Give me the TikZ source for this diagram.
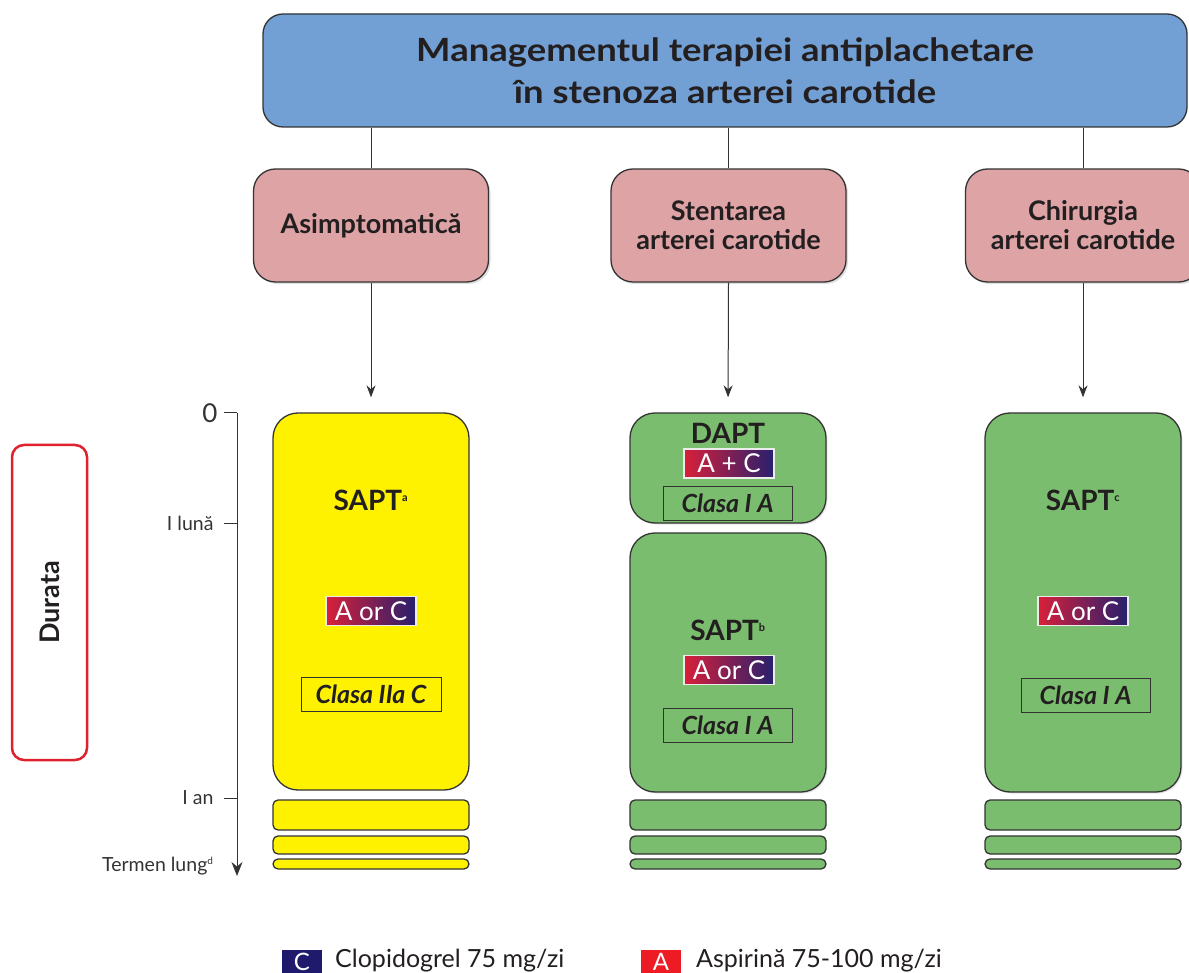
\documentclass[tikz,border=0pt]{standalone}
\usepackage{fontspec}
\setmainfont{Lato}
\newfontfamily\headfont{Lato}[FakeStretch=1.14]
\usetikzlibrary{arrows.meta,shadows}
\definecolor{titleblue}{HTML}{729FD4}
\definecolor{rosebox}{HTML}{DDA3A5}
\definecolor{sapyellow}{HTML}{FFF200}
\definecolor{sapgreen}{HTML}{7ABD6E}
\definecolor{durred}{HTML}{E0212E}
\definecolor{legred}{HTML}{ED1C24}
\definecolor{legnavy}{HTML}{201A6C}
\definecolor{badgered}{HTML}{D8203A}
\definecolor{badgenavy}{HTML}{27206E}
\definecolor{edge}{HTML}{333333}
\definecolor{ink}{HTML}{231F20}
\tikzset{
  panel/.style={draw=edge, line width=1.3pt, inner sep=0pt, align=center, text=ink},
  headbox/.style={panel, fill=titleblue, rounded corners=20pt, font=\headfont\bfseries\fontsize{32}{42}\selectfont},
  groupbox/.style={panel, fill=rosebox, rounded corners=22pt, minimum width=235pt, minimum height=113pt,
    font=\bfseries\fontsize{27}{29}\selectfont, drop shadow={shadow xshift=2pt, shadow yshift=-2pt, opacity=0.25}},
  termbox/.style={panel, rounded corners=25pt, minimum width=196pt},
  yellowbox/.style={termbox, fill=sapyellow},
  greenbox/.style={termbox, fill=sapgreen, drop shadow={shadow xshift=1.5pt, shadow yshift=-1.5pt, opacity=0.2}},
  stripe/.style={panel, rounded corners=5pt, minimum width=196pt},
  badge/.style={text=white, left color=badgered, right color=badgenavy, draw=white!85!gray, line width=1.5pt,
    minimum width=90pt, minimum height=29pt, inner sep=0pt, font=\fontsize{26}{26}\selectfont},
  classbox/.style={draw=edge, line width=1pt, inner sep=0pt, minimum height=34pt, text=ink,
    font=\bfseries\itshape\fontsize{25}{25}\selectfont},
  label/.style={text=ink, font=\bfseries\fontsize{28}{28}\selectfont},
  ticklabel/.style={anchor=east, font=\fontsize{19.5}{19.5}\selectfont, text=edge},
  link/.style={draw=edge, line width=1pt},
  legendkey/.style={anchor=base, inner sep=0pt, text=white, font=\fontsize{24}{24}\selectfont},
  legendtext/.style={anchor=west, inner sep=0pt, font=\fontsize{25}{25}\selectfont, text=ink},
}
\begin{document}
\begin{tikzpicture}[x=1pt,y=-1pt]
\useasboundingbox (0,0) rectangle (1189,973);
\clip (0,0) rectangle (1189,973);

% heading
\node[headbox, minimum width=924pt, minimum height=113pt] (head) at (725,70.5)
  {Managementul terapiei antiplachetare\\în stenoza arterei carotide};

% three clinical situations
\node[groupbox] (asym) at (371,225.5) {Asimptomatică};
\node[groupbox] (stent) at (728.5,225.5) {Stentarea\\arterei carotide};
\node[groupbox] (surg) at (1083,225.5) {Chirurgia\\arterei carotide};

\draw[link] (head.south -| asym) -- (asym.north);
\draw[link] (head.south -| stent) -- (stent.north);
\draw[link] (head.south -| surg) -- (surg.north);

% asymptomatic column
\node[yellowbox, minimum height=377pt] (yA) at (371,601.5) {};
\node[label] (yAlab) at (371,500) {SAPT\textsuperscript{\fontsize{11}{11}\selectfont a}};
\node[badge] (yAbadge) at (371,611) {A or C};
\node[classbox, minimum width=140pt] (yAcls) at (371,694.5) {Clasa IIa C};
\node[stripe, fill=sapyellow, minimum height=30pt] (yS1) at (371,815) {};
\node[stripe, fill=sapyellow, minimum height=18pt] (yS2) at (371,845) {};
\node[stripe, fill=sapyellow, minimum height=10pt] (yS3) at (371,864) {};

% stenting column
\node[greenbox, minimum height=110pt] (gD) at (728,468) {};
\node[label] (gDlab) at (728,433) {DAPT};
\node[badge] (gDbadge) at (729,463.5) {A + C};
\node[classbox, minimum width=129pt] (gDcls) at (727.5,503.5) {Clasa I A};
\node[greenbox, minimum height=259pt] (gB) at (728,662.5) {};
\node[label] (gBlab) at (728,630) {SAPT\textsuperscript{\fontsize{11}{11}\selectfont b}};
\node[badge] (gBbadge) at (729,670) {A or C};
\node[classbox, minimum width=129pt] (gBcls) at (727.5,725) {Clasa I A};
\node[stripe, fill=sapgreen, minimum height=30pt] (gS1) at (728,815) {};
\node[stripe, fill=sapgreen, minimum height=18pt] (gS2) at (728,845) {};
\node[stripe, fill=sapgreen, minimum height=10pt] (gS3) at (728,864) {};

% surgery column
\node[greenbox, minimum height=379pt] (gC) at (1083,602.5) {};
\node[label] (gClab) at (1083,500) {SAPT\textsuperscript{\fontsize{11}{11}\selectfont c}};
\node[badge] (gCbadge) at (1083,611) {A or C};
\node[classbox, minimum width=129pt] (gCcls) at (1085.5,695) {Clasa I A};
\node[stripe, fill=sapgreen, minimum height=30pt] (cS1) at (1083,815) {};
\node[stripe, fill=sapgreen, minimum height=18pt] (cS2) at (1083,845) {};
\node[stripe, fill=sapgreen, minimum height=10pt] (cS3) at (1083,864) {};

% arrows into the treatment boxes
\draw[link, -{Stealth[length=12pt,width=9pt]}, shorten >=15pt] (asym.south) -- (yA.north);
\draw[link, -{Stealth[length=12pt,width=9pt]}, shorten >=15pt] (stent.south) -- (gD.north);
\draw[link, -{Stealth[length=12pt,width=9pt]}, shorten >=15pt] (surg.south) -- (gC.north);

% time axis
\coordinate (t0) at (237,413);
\coordinate (t1) at (237,523);
\coordinate (t2) at (237,798);
\coordinate (tend) at (237,876);
\draw[link, -{Stealth[length=14pt,width=11pt]}] (t0) -- (tend);
\draw[link] (t0) -- ++(-13,0);
\draw[link] (t1) -- ++(-13,0);
\draw[link] (t2) -- ++(-13,0);
\node[ticklabel, font=\fontsize{26}{26}\selectfont] (l0) at (221,413) {0};
\node[ticklabel] (l1) at (217,523) {I lună};
\node[ticklabel] (l2) at (217,798) {I an};
\node[ticklabel] (l3) at (217,866) {Termen lung\textsuperscript{\fontsize{10}{10}\selectfont d}};

% duration label
\node[draw=durred, line width=2.5pt, rounded corners=12pt, minimum width=75pt, minimum height=315pt, inner sep=0pt] (dur) at (49.5,602.5) {};
\node[rotate=90, text=ink, font=\bfseries\fontsize{27}{27}\selectfont] (durlab) at (dur.center) {Durata};

% legend
\fill[legnavy] (282,950) rectangle (322,975);
\fill[legred] (641,950) rectangle (681,975);
\node[legendkey] (kC) at (302,970.5) {C};
\node[legendkey] (kA) at (661,970.5) {A};
\node[legendtext] (tC) at (335,961) {Clopidogrel 75 mg/zi};
\node[legendtext] (tA) at (696,961) {Aspirină 75-100 mg/zi};
\end{tikzpicture}
\end{document}
